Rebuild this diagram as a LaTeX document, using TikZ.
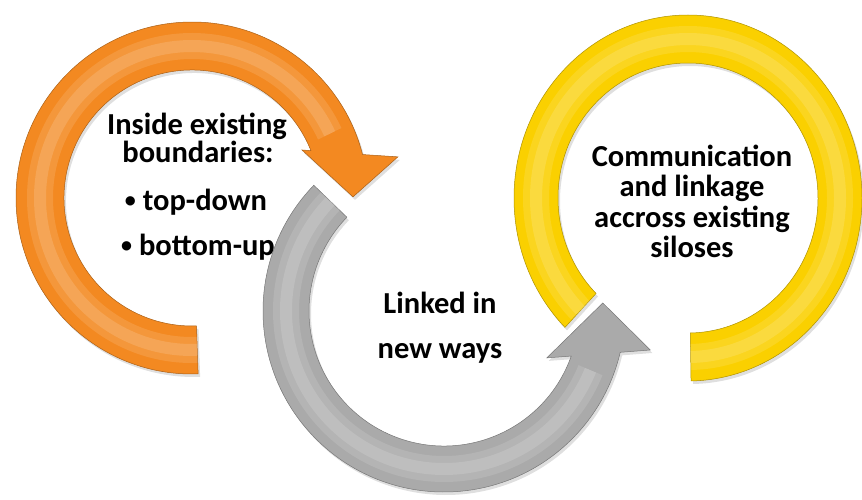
\documentclass[tikz,border=0pt]{standalone}
\usepackage{fontspec}
\setmainfont{Carlito}
\usepackage{tikz}
\usetikzlibrary{shadows}

\definecolor{ringorange}{RGB}{243,137,33}
\definecolor{ringgray}{RGB}{170,170,170}
\definecolor{ringyellow}{RGB}{250,208,0}

\newcommand{\smallbullet}{{\fontsize{22}{22}\selectfont\raisebox{3pt}{•}}}

\begin{document}
\begin{tikzpicture}[x=1pt, y=1pt,
    ring/.style={fill=#1, draw=#1!70!black, line width=0.5pt,
      drop shadow={opacity=0.25, shadow xshift=2pt, shadow yshift=-3pt}},
    shine/.style={draw=white, line width=26pt, opacity=0.12,
      postaction={draw=white, line width=12pt, opacity=0.14}},
    txt/.style={font=\fontsize{30.5}{32}\selectfont\bfseries, anchor=base, inner sep=0pt}]
  \useasboundingbox (0,0) rectangle (862,499);

  % Orange arrow (clockwise, head at the right)
  \begin{scope}[shift={(192,301)}]
    \draw[ring=ringorange] (-88:176) arc[start angle=-88, end angle=-345.7, radius=176]
      -- (-348.7:210) -- (-359.6:161) -- (-336.4:120) -- (-338.3:128)
      arc[start angle=-338.3, end angle=-88, radius=128] -- cycle;
    \draw[shine] (-88:152) arc[start angle=-88, end angle=-335, radius=152];
  \end{scope}
  \node[txt] (inside) at (197,364) {Inside existing};
  \node[txt] (bound) at (198,336) {boundaries:};
  \node[txt] (topdown) at (196,289) {\smallbullet\ top-down};
  \node[txt] (bottomup) at (198,244) {\smallbullet\ bottom-up};

  % Yellow ring (no head)
  \begin{scope}[shift={(688,301)}]
    \draw[ring=ringyellow] (225:174 and 183)
      arc[start angle=225, end angle=-89, x radius=174, y radius=183]
      -- (-89:130 and 135)
      arc[start angle=-89, end angle=225, x radius=130, y radius=135] -- cycle;
    \draw[shine] (225:152 and 159) arc[start angle=225, end angle=-89, x radius=152, y radius=159];
  \end{scope}
  \node[txt] (comm) at (692,333) {Communication};
  \node[txt] (link) at (692,303) {and linkage};
  \node[txt] (accross) at (692,272) {accross existing};
  \node[txt] (silos) at (692,242) {siloses};

  % Gray arrow (counter-clockwise, head at the right)
  \begin{scope}[shift={(444,188)}]
    \draw[ring=ringgray] (136:181) arc[start angle=136, end angle=346.8, radius=181]
      -- (349.3:210) -- (362.9:159) -- (335.5:113) -- (340.5:135)
      arc[start angle=340.5, end angle=136, radius=135] -- cycle;
    \draw[shine] (136:158) arc[start angle=136, end angle=338, radius=158];
  \end{scope}
  \node[txt] (linked) at (440,186) {Linked in};
  \node[txt] (newways) at (440,141) {new ways};
\end{tikzpicture}
\end{document}
